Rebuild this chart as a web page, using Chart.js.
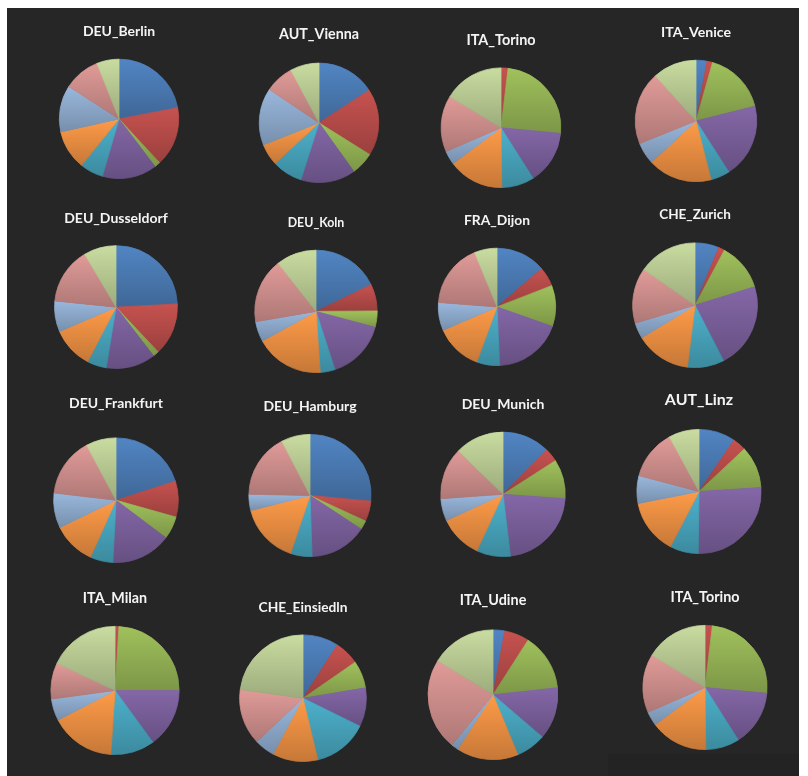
<!DOCTYPE html>
<html><head><meta charset="utf-8">
<script src="https://cdn.jsdelivr.net/npm/chart.js@4.4.1/dist/chart.umd.min.js"></script>
<style>
html,body{margin:0;padding:0;background:#fff;width:808px;height:776px;overflow:hidden;position:relative}
#panel{position:absolute;left:7px;top:8px;width:792px;height:768px;background:#262626}
#patch{position:absolute;left:608px;top:754px;width:191px;height:22px;background:#232323}
canvas{position:absolute}
</style></head><body>
<div id="panel"></div><div id="patch"></div>
<script>
// ---------- data ----------
const categories = ['Cat 1','Cat 2','Cat 3','Cat 4','Cat 5','Cat 6','Cat 7','Cat 8','Cat 9'];
const titles = ['DEU_Berlin','AUT_Vienna','ITA_Torino','ITA_Venice',
                'DEU_Dusseldorf','DEU_Koln','FRA_Dijon','CHE_Zurich',
                'DEU_Frankfurt','DEU_Hamburg','DEU_Munich','AUT_Linz',
                'ITA_Milan','CHE_Einsiedln','ITA_Udine','ITA_Torino'];
const berlin     = [22.0, 16.1, 1.6, 14.8, 6.3, 10.7, 12.6, 9.9, 6.0];
const vienna     = [15.8, 18.1, 6.2, 14.8, 8.2, 5.9, 15.4, 7.8, 7.8];
const torino     = [0, 1.9, 24.6, 14.5, 8.8, 15.0, 3.7, 15.2, 16.3];
const venice     = [2.9, 1.5, 16.7, 19.8, 5.1, 17.1, 5.8, 19.4, 11.7];
const dusseldorf = [24.2, 13.8, 1.6, 13.0, 5.1, 10.9, 8.1, 14.9, 8.5];
const koln       = [17.8, 7.1, 4.3, 15.8, 3.9, 18.1, 5.3, 17.1, 10.6];
const dijon      = [13.7, 5.4, 11.3, 18.9, 6.3, 12.9, 7.7, 17.6, 6.2];
const zurich     = [6.2, 1.6, 12.4, 22.2, 9.5, 14.3, 4.1, 14.3, 15.3];
const frankfurt  = [20.0, 9.3, 5.9, 15.5, 5.9, 11.1, 9.0, 15.3, 7.8];
const hamburg    = [26.5, 5.4, 2.4, 15.2, 5.7, 15.9, 4.3, 17.1, 7.6];
const munich     = [12.4, 3.5, 10.2, 22.0, 8.8, 11.2, 5.8, 13.4, 12.7];
const linz       = [9.5, 3.5, 11.0, 26.2, 7.4, 14.3, 7.2, 13.0, 7.9];
const milan      = [0.3, 0.7, 24.0, 14.9, 11.1, 16.3, 5.5, 9.1, 18.0];
const einsiedln  = [9.1, 6.3, 7.0, 9.9, 14.0, 11.6, 5.2, 14.2, 22.8];
const udine      = [2.9, 6.2, 14.2, 13.0, 7.5, 15.4, 1.8, 22.9, 16.2];
const torino2    = [0, 1.9, 24.6, 14.5, 8.8, 15.0, 3.7, 15.2, 16.3];
const seriesValues = [berlin, vienna, torino, venice, dusseldorf, koln, dijon, zurich,
                      frankfurt, hamburg, munich, linz, milan, einsiedln, udine, torino2];

// ---------- style / layout ----------
const seriesColors = ['#4F81BD','#C0504D','#9BBB59','#8064A2','#4BACC6','#F79646','#95B3D7','#D99694','#C3D69B'];
const FONT = 'Lato, "Open Sans", sans-serif';
// pie centre (cx,cy), radius r, title cap-centre y (ty), title width (tw)
const layout = [
  {cx:118.5,cy:118.8,r:60,  ty:31.7, tw:72.3},
  {cx:319,  cy:122.7,r:60,  ty:35,   tw:80},
  {cx:500.7,cy:127.5,r:60,  ty:41,   tw:69.3},
  {cx:695.8,cy:120.8,r:61,  ty:32.3, tw:70},
  {cx:116.3,cy:307.3,r:62,  ty:218.3,tw:103.7},
  {cx:315.7,cy:311.3,r:61.5,ty:223.3,tw:56.7},
  {cx:497.3,cy:306.8,r:59,  ty:220,  tw:66},
  {cx:695.2,cy:305.2,r:62.7,ty:215,  tw:71.7},
  {cx:115.5,cy:500,  r:62.5,ty:403.3,tw:94},
  {cx:310.3,cy:495.3,r:61.3,ty:406.7,tw:93.3},
  {cx:503.2,cy:494.2,r:62.5,ty:404.3,tw:82.7},
  {cx:698.8,cy:491.5,r:62.5,ty:400,  tw:68.3},
  {cx:115.3,cy:690.5,r:64.5,ty:598.3,tw:64.3},
  {cx:302.5,cy:698,  r:63.5,ty:607.3,tw:89},
  {cx:493.2,cy:694.7,r:65.2,ty:601,  tw:66.7},
  {cx:705,  cy:687.5,r:62.5,ty:597.7,tw:69}
];

function shade(hex, f){
  const n = parseInt(hex.slice(1),16);
  const c = [(n>>16)&255,(n>>8)&255,n&255].map(v=>Math.min(255,Math.round(v*f)));
  return 'rgb('+c.join(',')+')';
}
const sliceGradient = {
  id:'sliceGradient',
  beforeDatasetsDraw(chart){
    const ctx = chart.ctx;
    chart.getDatasetMeta(0).data.forEach((arc,i)=>{
      const p = arc.getProps(['x','y','startAngle','endAngle','outerRadius'], true);
      let ymin = p.y, ymax = p.y;
      for (let k=0;k<=40;k++){
        const a = p.startAngle + (p.endAngle-p.startAngle)*k/40;
        const yy = p.y + p.outerRadius*Math.sin(a);
        ymin = Math.min(ymin,yy); ymax = Math.max(ymax,yy);
      }
      if (ymax - ymin < 1) ymax = ymin + 1;
      const g = ctx.createLinearGradient(0,ymin,0,ymax);
      const base = seriesColors[i % seriesColors.length];
      g.addColorStop(0, shade(base,1.03));
      g.addColorStop(1, shade(base,0.80));
      arc.options = Object.assign({}, arc.options, {backgroundColor:g, borderColor:g});
    });
  }
};

const measure = document.createElement('canvas').getContext('2d');
titles.forEach((t,i)=>{
  const L = layout[i];
  measure.font = 'bold 100px ' + FONT;
  const fs = L.tw / measure.measureText(t).width * 100;
  const lh = fs*1.2;
  const top = Math.round(L.ty - lh/2);
  const pb = (L.cy - L.r) - top - lh;
  const W = 200;
  const H = Math.round(L.cy + L.r - top);
  const c = document.createElement('canvas');
  c.width = W; c.height = H;
  c.style.left = Math.round(L.cx - W/2) + 'px';
  c.style.top = top + 'px';
  c.style.width = W + 'px'; c.style.height = H + 'px';
  document.body.appendChild(c);
  new Chart(c, {
    type:'pie',
    data:{labels:categories, datasets:[{data:seriesValues[i], backgroundColor:seriesColors,
          borderColor:seriesColors, borderWidth:0.8, hoverOffset:0}]},
    options:{
      responsive:false, animation:false, events:[],
      layout:{padding:0},
      plugins:{
        legend:{display:false}, tooltip:{enabled:false},
        title:{display:true, text:t, color:'#f4f4f4',
               font:{family:FONT, size:fs, weight:'bold', lineHeight:1.2},
               padding:{top:0,bottom:pb}}
      }
    },
    plugins:[sliceGradient]
  });
});
</script>
</body></html>
